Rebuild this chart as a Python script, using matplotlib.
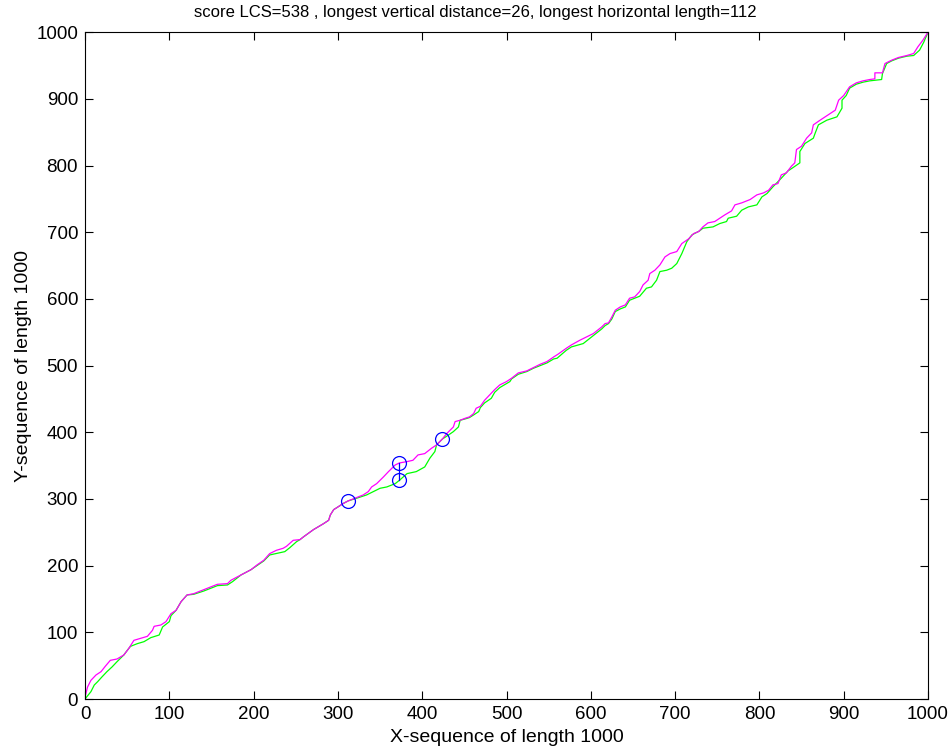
import matplotlib
matplotlib.use("Agg")
import matplotlib.pyplot as plt

plt.rcParams['font.family'] = ['Liberation Sans', 'DejaVu Sans']

# upper path (magenta)
upper_x = [0, 0, 1, 3, 7, 13, 19, 24, 30, 38, 46, 52, 58, 66, 74, 80, 82, 90, 96, 102, 108, 114,
           121, 129, 141, 157, 169, 173, 185, 197, 204, 212, 219, 227, 235, 239, 247, 255, 259,
           271, 283, 289, 291, 295, 300, 306, 312, 322, 330, 336, 340, 346, 354, 360, 368, 373,
           382, 389, 395, 403, 411, 417, 424, 429, 437, 439, 445, 451, 456, 461, 464, 469, 474,
           480, 486, 492, 500, 506, 514, 524, 532, 540, 548, 556, 561, 571, 577, 587, 595, 603,
           613, 617, 621, 625, 629, 635, 641, 646, 652, 658, 662, 668, 670, 676, 682, 688, 694,
           702, 708, 716, 722, 728, 733, 739, 747, 753, 759, 767, 771, 779, 789, 797, 805, 811,
           816, 822, 826, 832, 838, 842, 844, 850, 856, 862, 864, 872, 878, 884, 890, 894, 900,
           907, 915, 923, 931, 937, 937, 946, 949, 957, 965, 975, 983, 988, 994, 1000]
upper_y = [0, 4, 8, 18, 28, 36, 41, 49, 58, 60, 66, 76, 88, 91, 94, 103, 109, 111, 116, 128, 133,
           146, 156, 158, 164, 172, 173, 178, 186, 194, 201, 208, 218, 223, 226, 229, 238, 239,
           243, 254, 263, 268, 276, 284, 288, 293, 297, 302, 306, 311, 318, 323, 333, 341, 351,
           354, 356, 358, 366, 368, 376, 381, 390, 398, 408, 416, 418, 421, 423, 428, 436, 439,
           448, 456, 464, 471, 476, 481, 489, 492, 497, 502, 506, 513, 517, 526, 531, 538, 543,
           548, 558, 563, 564, 573, 583, 588, 591, 601, 603, 611, 621, 628, 638, 643, 651, 663,
           668, 671, 683, 690, 698, 701, 708, 714, 716, 721, 726, 732, 741, 744, 749, 756, 759,
           763, 771, 773, 786, 789, 799, 804, 824, 829, 841, 849, 861, 868, 873, 878, 883, 898,
           905, 918, 924, 927, 929, 930, 939, 939, 953, 958, 962, 965, 968, 978, 988, 1000]

# lower path (green)
lower_x = [0, 7, 11, 15, 20, 26, 32, 38, 42, 46, 52, 54, 62, 70, 78, 88, 92, 100, 102, 108, 114,
           121, 129, 141, 157, 169, 175, 185, 197, 204, 212, 219, 237, 243, 251, 255, 259, 271,
           283, 289, 291, 295, 300, 306, 312, 322, 334, 342, 350, 358, 368, 373, 382, 393, 403,
           409, 415, 417, 424, 429, 437, 443, 445, 451, 456, 461, 467, 469, 474, 482, 486, 492,
           500, 504, 506, 514, 524, 532, 540, 548, 556, 560, 571, 577, 591, 599, 603, 613, 617,
           621, 625, 629, 635, 641, 646, 652, 658, 666, 672, 678, 682, 690, 696, 702, 708, 714,
           720, 729, 733, 745, 753, 761, 763, 773, 779, 787, 797, 803, 809, 816, 826, 834, 840,
           848, 848, 854, 864, 866, 870, 880, 892, 898, 898, 903, 907, 915, 923, 931, 945, 946,
           951, 957, 965, 975, 983, 990, 995, 1000]
lower_y = [0, 11, 21, 26, 33, 41, 48, 56, 61, 66, 76, 79, 83, 86, 92, 96, 108, 116, 125, 133, 146,
           156, 157, 162, 170, 171, 176, 186, 194, 200, 207, 216, 221, 227, 236, 239, 243, 254,
           263, 268, 276, 284, 288, 293, 297, 301, 306, 311, 316, 318, 323, 328, 338, 341, 348,
           361, 371, 381, 390, 394, 401, 408, 418, 420, 422, 426, 431, 437, 444, 451, 460, 467,
           473, 476, 480, 487, 491, 496, 500, 504, 510, 511, 523, 528, 533, 541, 545, 555, 560,
           563, 570, 581, 585, 588, 598, 601, 604, 616, 618, 628, 641, 643, 646, 653, 668, 686,
           696, 702, 706, 708, 713, 716, 721, 724, 733, 738, 741, 753, 758, 768, 781, 792, 797,
           804, 821, 833, 841, 848, 861, 868, 873, 886, 898, 905, 916, 922, 925, 927, 929, 938,
           953, 957, 961, 964, 965, 973, 985, 1000]

# marked points: ends of longest horizontal run and longest vertical gap
mark_x = [312, 424, 373, 373]
mark_y = [297, 390, 354, 328]
gap_x = [373, 373]
gap_y = [328, 354]

fig = plt.figure(figsize=(9.51, 7.48), dpi=100)
ax = fig.add_axes([0.0894, 0.0655, 0.8864, 0.8915])

ax.plot(lower_x, lower_y, color=(0, 1, 0), lw=0.9)
ax.plot(upper_x, upper_y, color=(1, 0, 1), lw=0.9)
ax.plot(gap_x, gap_y, color=(0, 0, 1), lw=0.9)
ax.plot(mark_x, mark_y, 'o', ms=10, mfc='none', mec=(0, 0, 1), mew=0.9, linestyle='none')

ax.set_xlim(0, 1000)
ax.set_ylim(0, 1000)
ax.set_xticks(range(0, 1001, 100))
ax.set_yticks(range(0, 1001, 100))
ax.tick_params(direction='in', top=True, right=True, length=6, width=0.8, labelsize=13.5, pad=5)
for s in ax.spines.values():
    s.set_linewidth(0.8)

fig.text(0.5, 1 - 13 / 748, 'score LCS=538 , longest vertical distance=26, longest horizontal length=112',
         fontsize=12, ha='center', va='center')
ax.set_xlabel('X-sequence of length 1000', fontsize=14, labelpad=4)
ax.set_ylabel('Y-sequence of length 1000', fontsize=14, labelpad=3)

fig.savefig('out.png', dpi=100)
